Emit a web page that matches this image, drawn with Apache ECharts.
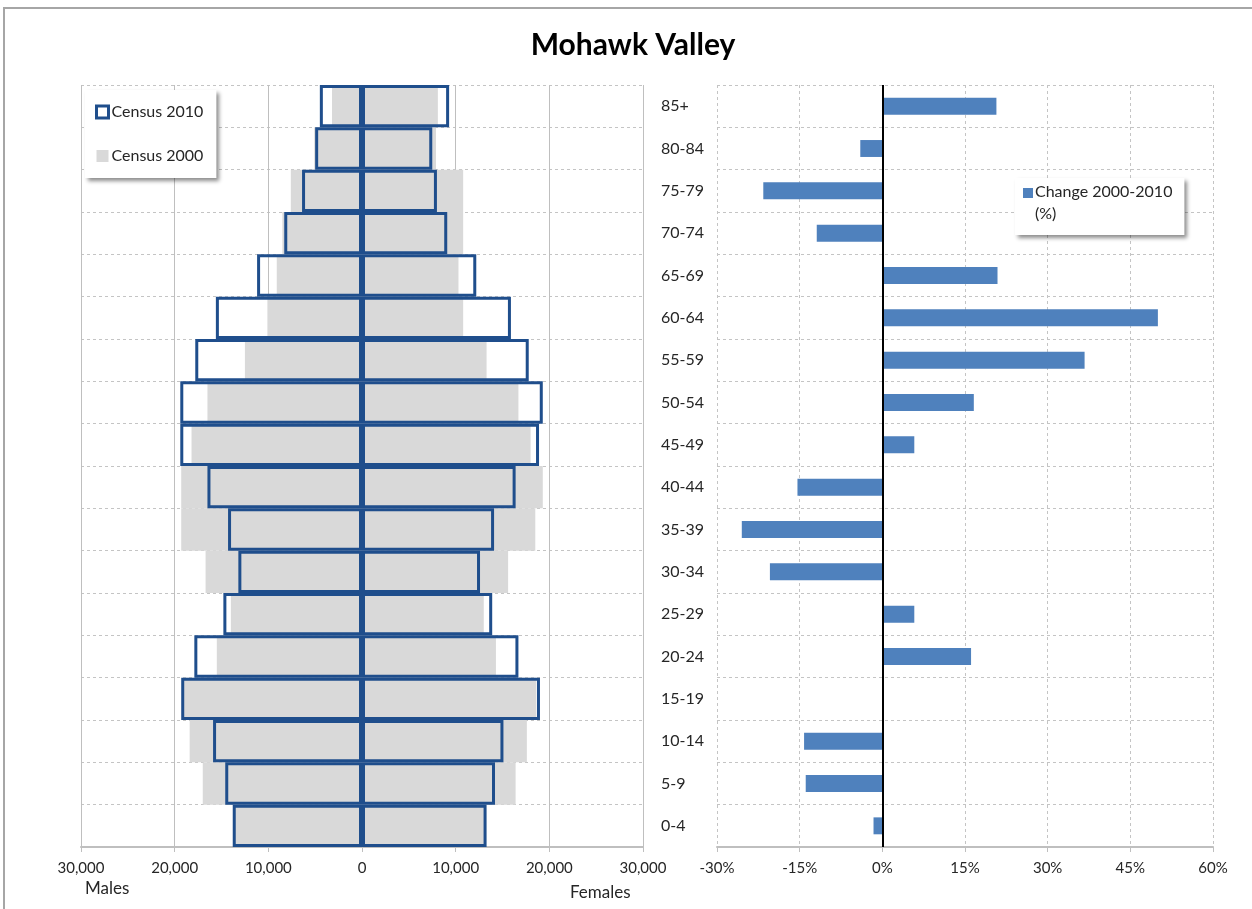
<!DOCTYPE html>
<html>
<head>
<meta charset="utf-8">
<title>Mohawk Valley</title>
<script src="https://cdn.jsdelivr.net/npm/echarts@6/dist/echarts.min.js"></script>
<style>
	html, body { margin: 0; padding: 0; background: #fff; }
	#chart { width: 1252px; height: 909px; }
</style>
</head>
<body>
<div id="chart"></div>
<script>
/* age groups, bottom (0-4) to top (85+) */
var ages = ['0-4','5-9','10-14','15-19','20-24','25-29','30-34','35-39','40-44',
	'45-49','50-54','55-59','60-64','65-69','70-74','75-79','80-84','85+'];

// Census 2010 (outlined boxes)
var males2010   = [13800,14600,15900,19300,17900,14800,13200,14300,16500,19400,19400,17800,15600,11200,8300,6400,5000,4500];
var females2010 = [13300,14200,15100,19000,16700,13900,12600,14100,16400,18900,19300,17800,15900,12200,9100,8000,7500,9300];

// Census 2000 (grey bars)
var males2000   = [13700,17000,18400,19100,15500,14000,16700,19300,19300,18200,16500,12500,10100,9100,8500,7600,5100,3200];
var females2000 = [13100,16400,17600,18600,14300,13000,15600,18500,19300,18000,16700,13300,10800,10300,10800,10800,7900,8100];

// change 2000-2010 (%)
var changePct = [-1.6,-13.9,-14.2,0.3,16.1,5.8,-20.4,-25.5,-15.4,5.8,16.6,36.7,50.0,20.9,-11.9,-21.6,-4.0,20.7];

// x axis ticks
var popTicks = [-30000, 30000, 10000];   // min, max, interval
var pctTicks = [-30, 60, 15];

var FONT = 'Lato, "Open Sans", sans-serif';
var TXT = '#262626';
var BLUE_LINE = '#1F4E8C';
var GREY = '#D9D9D9';
var BAR_BLUE = '#4F81BD';

$ = function(id){ return document.getElementById(id); };

/**
 * 男性为负值, 画在左边
 */
function toLeft(arr){
	var out = [];
	for(var i = 0;i<arr.length;i++){
		out.push(-arr[i]);
	}
	return out;
}

function getOptions(){
	var dotted = {color: '#C4C4C4', type: [3, 3], width: 1};
	var axisBottom = {show: true, lineStyle: {color: '#BFBFBF', width: 2}};

	var options = {
		animation: false,
		backgroundColor: '#fff',
		textStyle: {fontFamily: FONT},
		grid: [
			{left: 81, right: 609, top: 85, bottom: 62},
			{left: 717, right: 39, top: 85, bottom: 62}
		],
		legend: [
			{
				orient: 'vertical',
				left: 85, top: 90,
				padding: [14, 13, 14, 10],
				itemGap: 28,
				itemWidth: 12, itemHeight: 12,
				backgroundColor: '#fff',
				shadowColor: 'rgba(0,0,0,0.45)',
				shadowBlur: 4, shadowOffsetX: 3, shadowOffsetY: 3,
				textStyle: {fontFamily: FONT, fontSize: 16, color: TXT, padding: [0, 0, 0, -2]},
				data: [
					{name: 'Census 2010', icon: 'rect', itemStyle: {color: '#fff', borderColor: BLUE_LINE, borderWidth: 3}},
					{name: 'Census 2000', icon: 'rect', itemStyle: {color: GREY, borderWidth: 0}}
				]
			},
			{
				left: 1015, top: 178,
				padding: [3, 12, 10, 8],
				itemWidth: 10, itemHeight: 30,
				backgroundColor: '#fff',
				shadowColor: 'rgba(0,0,0,0.45)',
				shadowBlur: 4, shadowOffsetX: 3, shadowOffsetY: 3,
				textStyle: {fontFamily: FONT, fontSize: 16, lineHeight: 22, color: TXT, padding: [0, 0, 0, -3]},
				data: [
					{name: 'Change 2000-2010\n(%)', icon: 'path://M0,0h10v10h-10z M0,30h0.01v0.01h-0.01z'}
				]
			}
		],
		xAxis: [
			{
				gridIndex: 0, type: 'value',
				min: popTicks[0], max: popTicks[1], interval: popTicks[2],
				axisLine: axisBottom,
				axisTick: {show: true, length: 5, lineStyle: {color: '#BFBFBF'}},
				axisLabel: {
					fontFamily: FONT, fontSize: 15, color: TXT, margin: 14,
					formatter: function(v){ return echarts.format.addCommas(Math.abs(v)); }
				},
				splitLine: {show: true, lineStyle: {color: '#BFBFBF', width: 1}}
			},
			{
				gridIndex: 1, type: 'value',
				min: pctTicks[0], max: pctTicks[1], interval: pctTicks[2],
				axisLine: axisBottom,
				axisTick: {show: true, length: 5, lineStyle: {color: '#BFBFBF'}},
				axisLabel: {fontFamily: FONT, fontSize: 15, color: TXT, margin: 14, formatter: '{value}%'},
				splitLine: {show: true, lineStyle: dotted}
			}
		],
		yAxis: [
			{
				gridIndex: 0, type: 'category', data: ages,
				axisLine: {show: false}, axisTick: {show: false}, axisLabel: {show: false},
				splitLine: {show: true, lineStyle: dotted}
			},
			{
				gridIndex: 1, type: 'category', data: ages,
				axisLine: {show: false}, axisTick: {show: false},
				axisLabel: {fontFamily: FONT, fontSize: 16, color: TXT, align: 'left', margin: 56},
				splitLine: {show: true, lineStyle: dotted}
			}
		],
		series: [
			{
				name: 'Census 2000', type: 'bar', xAxisIndex: 0, yAxisIndex: 0,
				data: toLeft(males2000),
				barGap: '-100%', barCategoryGap: '0%',
				itemStyle: {color: GREY}
			},
			{
				name: 'Census 2000', type: 'bar', xAxisIndex: 0, yAxisIndex: 0,
				data: females2000,
				barGap: '-100%', barCategoryGap: '0%',
				itemStyle: {color: GREY}
			},
			{
				name: 'Census 2010', type: 'bar', xAxisIndex: 0, yAxisIndex: 0,
				data: toLeft(males2010),
				barGap: '-100%', barCategoryGap: '0%',
				itemStyle: {color: 'transparent', borderColor: BLUE_LINE, borderWidth: 3}
			},
			{
				name: 'Census 2010', type: 'bar', xAxisIndex: 0, yAxisIndex: 0,
				data: females2010,
				barGap: '-100%', barCategoryGap: '0%',
				itemStyle: {color: 'transparent', borderColor: BLUE_LINE, borderWidth: 3}
			},
			{
				name: 'Change 2000-2010\n(%)', type: 'bar', xAxisIndex: 1, yAxisIndex: 1,
				data: changePct,
				barCategoryGap: '60%',
				itemStyle: {color: BAR_BLUE},
				markLine: {
					silent: true, symbol: 'none',
					label: {show: false},
					lineStyle: {color: '#000', type: 'solid', width: 2},
					data: [{xAxis: 0}]
				}
			}
		],
		graphic: [
			// outer frame
			{type: 'rect', z: -10, shape: {x: 4, y: 8, width: 1400, height: 1000},
				style: {fill: null, stroke: '#A6A6A6', lineWidth: 2}},
			{type: 'text', style: {text: 'Mohawk Valley', x: 633, y: 45,
				textAlign: 'center', textVerticalAlign: 'middle',
				font: 'bold 30px ' + FONT, fill: '#000'}},
			{type: 'text', style: {text: 'Males', x: 85, y: 889, textVerticalAlign: 'middle',
				font: '17px ' + FONT, fill: TXT}},
			{type: 'text', style: {text: 'Females', x: 570, y: 893, textVerticalAlign: 'middle',
				font: '17px ' + FONT, fill: TXT}}
		]
	};
	return options;
}

var chart = echarts.init($('chart'));
chart.setOption(getOptions());
</script>
</body>
</html>
